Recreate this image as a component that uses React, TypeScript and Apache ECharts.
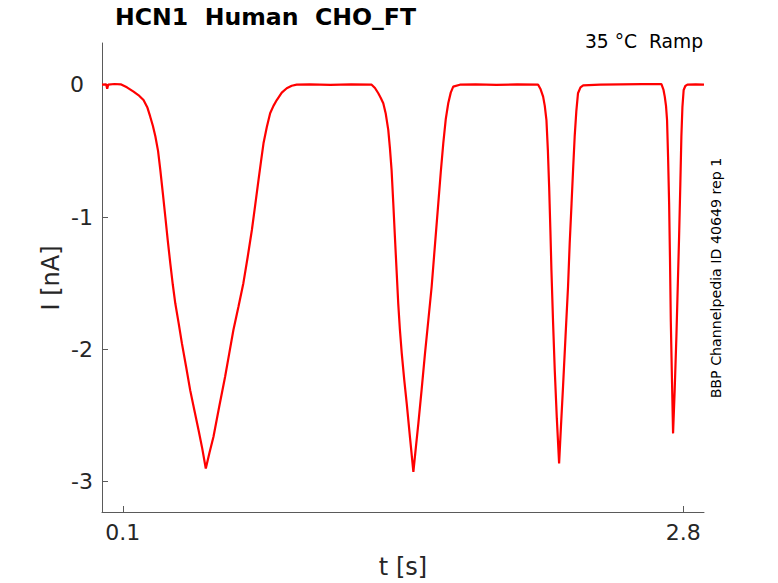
import React, { useEffect, useRef } from "react";
import * as echarts from "echarts";

const titleText = "HCN1  Human  CHO_FT";
const conditionText = "35 °C  Ramp";
const sideText = "BBP Channelpedia ID 40649 rep 1";
const xLabel = "t [s]";
const yLabel = "I [nA]";
const xTicks = [0.1, 2.8];
const yTicks = [-3, -2, -1, 0];

const times = [
  0, 0.02, 0.025, 0.03, 0.06, 0.09, 0.12, 0.152, 0.18, 0.2, 0.218, 0.232, 0.245, 0.257, 0.27, 0.281, 0.293, 0.305,
  0.317, 0.329, 0.341, 0.353, 0.369, 0.385, 0.405, 0.425, 0.445, 0.465, 0.483, 0.5, 0.518, 0.537, 0.565, 0.593,
  0.613, 0.633, 0.657, 0.681, 0.702, 0.722, 0.738, 0.754, 0.766, 0.778, 0.794, 0.81, 0.826, 0.842, 0.866, 0.89,
  0.914, 0.938, 1.0, 1.1, 1.2, 1.299, 1.315, 1.331, 1.343, 1.355, 1.367, 1.379, 1.387, 1.395, 1.403, 1.411, 1.419,
  1.427, 1.435, 1.444, 1.456, 1.468, 1.484, 1.5, 1.512, 1.524, 1.54, 1.556, 1.572, 1.588, 1.604, 1.62, 1.632, 1.644,
  1.656, 1.668, 1.68, 1.692, 1.724, 1.8, 1.9, 2.0, 2.101, 2.113, 2.125, 2.133, 2.141, 2.148, 2.154, 2.16, 2.165,
  2.173, 2.181, 2.191, 2.202, 2.211, 2.221, 2.233, 2.245, 2.253, 2.262, 2.27, 2.277, 2.285, 2.293, 2.305, 2.318,
  2.4, 2.5, 2.6, 2.695, 2.705, 2.711, 2.717, 2.722, 2.727, 2.732, 2.736, 2.74, 2.746, 2.751, 2.759, 2.767, 2.774,
  2.78, 2.786, 2.791, 2.796, 2.802, 2.81, 2.82, 2.86, 2.9,
];

const currents = [
  0, 0.003, -0.03, 0.0, 0.005, 0.003, -0.02, -0.053, -0.085, -0.116, -0.17, -0.24, -0.31, -0.39, -0.5, -0.645, -0.82,
  -0.998, -1.18, -1.35, -1.51, -1.652, -1.8, -1.955, -2.13, -2.31, -2.46, -2.61, -2.75, -2.9, -2.78, -2.66, -2.43,
  -2.207, -2.03, -1.854, -1.68, -1.5, -1.3, -1.098, -0.91, -0.72, -0.58, -0.443, -0.32, -0.216, -0.16, -0.116, -0.06,
  -0.027, -0.008, 0, 0.002, -0.002, 0.003, 0, -0.025, -0.065, -0.1, -0.14, -0.22, -0.342, -0.48, -0.645, -0.89,
  -1.149, -1.4, -1.652, -1.85, -2.03, -2.23, -2.41, -2.67, -2.925, -2.74, -2.56, -2.3, -2.03, -1.78, -1.527, -1.21,
  -0.897, -0.66, -0.443, -0.26, -0.14, -0.06, -0.015, 0, 0.002, -0.001, 0.002, 0, -0.035, -0.09, -0.16, -0.267, -0.5,
  -0.77, -1.1, -1.4, -1.8, -2.156, -2.52, -2.862, -2.58, -2.28, -1.9, -1.527, -1.2, -0.897, -0.62, -0.393, -0.2,
  -0.065, -0.02, -0.005, 0, 0.003, 0.004, 0.004, -0.04, -0.09, -0.16, -0.267, -0.55, -0.897, -1.3, -1.78, -2.25,
  -2.635, -2.3, -1.905, -1.5, -1.149, -0.75, -0.393, -0.17, -0.04, -0.01, 0, 0.002, 0,
];

const FONT = "DejaVu Sans";

export default function App() {
  const ref = useRef<HTMLDivElement>(null);
  useEffect(() => {
    if (!ref.current) return;
    const chart = echarts.init(ref.current, undefined, { renderer: "svg" });
    const data = times.map((t, i) => [t, currents[i]]);
    const axisColor = "#5a5a5a";
    const labelColor = "#262626";
    chart.setOption({
      animation: false,
      backgroundColor: "#ffffff",
      grid: { left: 102, right: 74, top: 43, bottom: 71, containLabel: false },
      xAxis: {
        type: "value",
        min: 0,
        max: 2.9,
        splitLine: { show: false },
        axisLine: { show: true, onZero: false, lineStyle: { color: axisColor, width: 1 } },
        axisTick: { show: true, inside: true, length: 6, customValues: xTicks, lineStyle: { color: axisColor } },
        axisLabel: {
          show: true,
          customValues: xTicks,
          margin: 9,
          color: labelColor,
          fontFamily: FONT,
          fontSize: 22,
          formatter: (v: number) => String(v),
        },
      },
      yAxis: {
        type: "value",
        min: -3.229,
        max: 0.315,
        splitLine: { show: false },
        axisLine: { show: true, onZero: false, lineStyle: { color: axisColor, width: 1 } },
        axisTick: { show: true, inside: true, length: 6, customValues: yTicks, lineStyle: { color: axisColor } },
        axisLabel: {
          show: true,
          customValues: yTicks,
          margin: 9,
          color: labelColor,
          fontFamily: FONT,
          fontSize: 22,
          formatter: (v: number) => (v === 0 ? "{z|0}" : String(v)),
          rich: {
            z: { padding: [0, 9, 0, 0], fontFamily: FONT, fontSize: 22, color: labelColor },
          },
        },
      },
      series: [
        {
          type: "line",
          data,
          showSymbol: false,
          symbol: "none",
          lineStyle: { color: "#ff0000", width: 2.2 },
          clip: true,
        },
      ],
      graphic: [
        {
          type: "text",
          left: 115,
          top: 5,
          style: { text: titleText, fontFamily: FONT, fontSize: 23.6, fontWeight: "bold", fill: "#000000" },
        },
        {
          type: "text",
          x: 703,
          y: 41,
          style: {
            text: conditionText,
            fontFamily: FONT,
            fontSize: 18.7,
            fill: "#000000",
            textAlign: "right",
            textVerticalAlign: "middle",
          },
        },
        {
          type: "text",
          x: 716,
          y: 278,
          rotation: Math.PI / 2,
          style: {
            text: sideText,
            fontFamily: FONT,
            fontSize: 14.2,
            fill: "#000000",
            textAlign: "center",
            textVerticalAlign: "middle",
          },
        },
        {
          type: "text",
          x: 51,
          y: 278,
          rotation: Math.PI / 2,
          style: {
            text: yLabel,
            fontFamily: FONT,
            fontSize: 24,
            fill: labelColor,
            textAlign: "center",
            textVerticalAlign: "middle",
          },
        },
        {
          type: "text",
          x: 403,
          y: 567,
          style: {
            text: xLabel,
            fontFamily: FONT,
            fontSize: 24,
            fill: labelColor,
            textAlign: "center",
            textVerticalAlign: "middle",
          },
        },
      ],
    });
    return () => chart.dispose();
  }, []);
  return (
    <div
      ref={ref}
      style={{ position: "fixed", left: 0, top: 0, width: 778, height: 583, background: "#fff" }}
    />
  );
}
